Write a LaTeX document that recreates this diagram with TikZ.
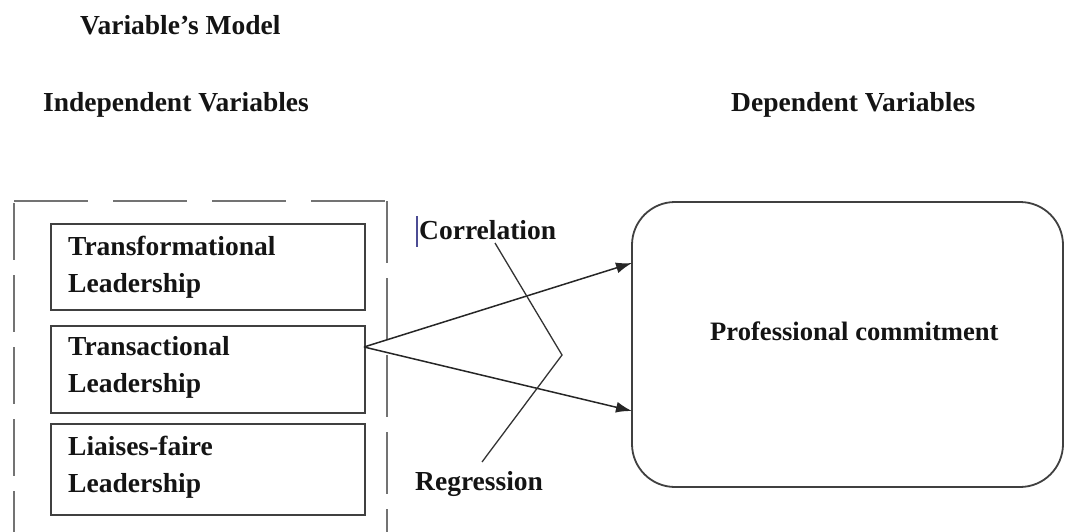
\documentclass[tikz,border=0pt]{standalone}
\usepackage{fontspec}
\setmainfont{Liberation Serif}
\usetikzlibrary{arrows.meta}
\begin{document}
\begin{tikzpicture}[x=1pt,y=-1pt,
  lbl/.style={anchor=base west,inner sep=0pt,font=\fontsize{27.5}{33}\selectfont\bfseries,text=black!92},
  inbox/.style={draw=black!75,line width=1.8pt,anchor=north west,minimum width=314pt,minimum height=87pt,inner sep=0pt},
  dashline/.style={draw=black!55,line width=2pt},
  conn/.style={draw=black!85,line width=1.5pt,-{Latex[length=16pt,width=11pt]}},
  brk/.style={draw=black!80,line width=1.3pt}]
\useasboundingbox (0,0) rectangle (1067,532);
% titles
\node[lbl] (title) at (80,35) {Variable’s Model};
\node[lbl] (indep) at (43,112) {Independent Variables};
\node[lbl] (dep) at (731,112) {Dependent Variables};
% dashed outer frame
\draw[dashline,dash pattern=on 74pt off 25pt] (14,201) -- (387,201);
\draw[dashline,dash pattern=on 57pt off 15pt] (14,203) -- (14,532);
\draw[dashline,dash pattern=on 62pt off 15pt] (387,201) -- (387,532);
% inner boxes
\node[inbox,minimum height=86pt] (b1) at (50,223) {};
\node[inbox,minimum height=87pt] (b2) at (50,325) {};
\node[inbox,minimum height=91pt] (b3) at (50,423) {};
\node[lbl] (t1a) at (68,255) {Transformational};
\node[lbl] (t1b) at (68,292) {Leadership};
\node[lbl] (t2a) at (68,355) {Transactional};
\node[lbl] (t2b) at (68,392) {Leadership};
\node[lbl] (t3a) at (68,455) {Liaises-faire};
\node[lbl] (t3b) at (68,492) {Leadership};
% dependent box
\draw[draw=black!75,line width=1.8pt,rounded corners=43pt] (632,202) rectangle (1063,487);
\node[inner sep=0pt,minimum width=431pt,minimum height=285pt,anchor=north west] (pc) at (632,202) {};
\node[lbl,font=\fontsize{26.6}{32}\selectfont\bfseries] (pct) at (710,340) {Professional commitment};
% labels
\node[lbl] (corr) at (419,239) {Correlation};
\node[lbl] (regr) at (415,490) {Regression};
\draw[draw=black!60!blue!70,line width=2.2pt] (417,216) -- (417,247);
% connectors
\coordinate (src) at (364,347);
\coordinate (e1) at (632,263);
\coordinate (e2) at (632,411);
\draw[conn] (src) -- (e1);
\draw[conn] (src) -- (e2);
% bracket lines
\coordinate (k1) at (495,243);
\coordinate (k2) at (562,355);
\coordinate (k3) at (482,462);
\draw[brk] (k1) -- (k2) -- (k3);
\end{tikzpicture}
\end{document}
